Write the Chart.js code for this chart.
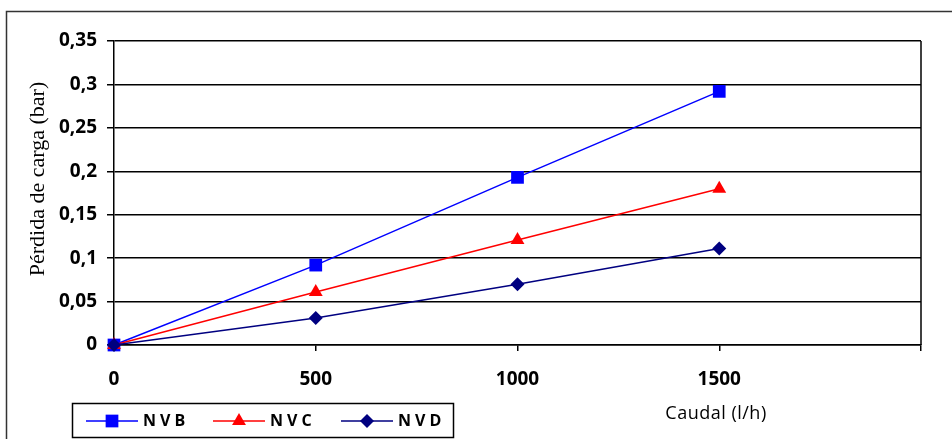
<!DOCTYPE html>
<html>
<head>
<meta charset="utf-8">
<script src="https://cdn.jsdelivr.net/npm/chart.js@4.4.0/dist/chart.umd.min.js"></script>
<style>
  html, body { margin: 0; padding: 0; background: #fff; }
  #wrap { width: 952px; height: 439px; }
</style>
</head>
<body>
<div id="wrap"><canvas id="myChart" width="952" height="439"></canvas></div>
<script>
// data
const caudal = [0, 500, 1000, 1500];
const nvb = [0, 0.092, 0.193, 0.292];
const nvc = [0, 0.061, 0.121, 0.18];
const nvd = [0, 0.031, 0.07, 0.111];
const seriesNames = ['NVB', 'NVC', 'NVD'];
const xTicks = [0, 500, 1000, 1500, 2000];   // last one has no label
const yTicks = [0, 0.05, 0.1, 0.15, 0.2, 0.25, 0.3, 0.35];

const tickFont = { family: 'Open Sans', size: 19, weight: 'bold' };

function pts(ys) {
    return caudal.map((x, i) => ({ x: x, y: ys[i] }));
}

const styles = [
    { color: '#0000ff', pointStyle: 'rect', radius: 9, order: 2 },
    { color: '#ff0000', pointStyle: 'triangle', radius: 8, order: 1 },
    { color: '#000080', pointStyle: 'rectRot', radius: 7, order: 0 }
];

const allSeries = [nvb, nvc, nvd];
const datasets = allSeries.map((s, i) => ({
    label: seriesNames[i],
    data: pts(s),
    borderColor: styles[i].color,
    backgroundColor: styles[i].color,
    borderWidth: 1.5,
    pointStyle: styles[i].pointStyle,
    pointRadius: styles[i].radius,
    pointBorderWidth: 0,
    order: styles[i].order,
    clip: false
}));

// borders, titles and the boxed legend
const extras = {
    id: 'extras',
    afterDraw(chart) {
        const ctx = chart.ctx;
        const a = chart.chartArea;
        ctx.save();

        // outer frame
        ctx.strokeStyle = '#333';
        ctx.lineWidth = 1.5;
        ctx.strokeRect(6.5, 11.5, 970, 450);

        // right edge of plot
        ctx.strokeStyle = '#000';
        ctx.lineWidth = 1.5;
        ctx.beginPath();
        ctx.moveTo(a.right, a.top);
        ctx.lineTo(a.right, a.bottom);
        ctx.stroke();

        // y title
        ctx.fillStyle = '#000';
        ctx.font = '22px "Liberation Serif"';
        ctx.textAlign = 'center';
        ctx.textBaseline = 'middle';
        ctx.translate(38, 179);
        ctx.rotate(-Math.PI / 2);
        ctx.fillText('Pérdida de carga (bar)', 0, 0);
        ctx.setTransform(1, 0, 0, 1, 0, 0);

        // x title
        ctx.font = '18px "Open Sans"';
        ctx.letterSpacing = '0.5px';
        ctx.fillText('Caudal (l/h)', 716, 414);

        // legend box
        ctx.lineWidth = 1.5;
        ctx.strokeStyle = '#000';
        ctx.strokeRect(72.5, 403.5, 381, 34);
        const ly = 421;
        const starts = [86, 213, 341];
        ctx.font = 'bold 16px "Open Sans"';
        ctx.textAlign = 'left';
        ctx.letterSpacing = '4px';
        datasets.forEach((d, i) => {
            const x0 = starts[i];
            ctx.strokeStyle = d.borderColor;
            ctx.lineWidth = 1.5;
            ctx.beginPath();
            ctx.moveTo(x0, ly);
            ctx.lineTo(x0 + 52, ly);
            ctx.stroke();
            ctx.fillStyle = d.backgroundColor;
            Chart.helpers.drawPoint(ctx, {
                pointStyle: d.pointStyle,
                radius: d.pointRadius,
                rotation: 0,
                borderWidth: 0
            }, x0 + 26, ly);
            ctx.fillStyle = '#000';
            ctx.fillText(d.label, x0 + 57, ly);
        });
        ctx.restore();
    }
};

const ctx = document.getElementById('myChart').getContext('2d');
const myChart = new Chart(ctx, {
    type: 'line',
    data: { datasets: datasets },
    options: {
        responsive: false,
        animation: false,
        layout: { padding: { top: 41, right: 31, left: 0, bottom: 0 } },
        plugins: {
            legend: { display: false },
            tooltip: { enabled: false }
        },
        scales: {
            x: {
                type: 'linear',
                min: 0,
                max: 2000,
                afterBuildTicks(scale) {
                    scale.ticks = xTicks.map(v => ({ value: v }));
                },
                afterFit(scale) { scale.height = 94; },
                ticks: {
                    color: '#000',
                    font: tickFont,
                    padding: 17,
                    maxRotation: 0,
                    callback: v => (v === 2000 ? '' : String(v))
                },
                grid: {
                    drawOnChartArea: false,
                    color: '#000',
                    lineWidth: 1.5,
                    tickLength: 6
                },
                border: { color: '#000', width: 1.5 }
            },
            y: {
                min: 0,
                max: 0.35,
                afterBuildTicks(scale) {
                    scale.ticks = yTicks.map(v => ({ value: v }));
                },
                afterFit(scale) { scale.width = 114; },
                ticks: {
                    color: '#000',
                    font: tickFont,
                    padding: 10,
                    callback: v => String(Number(v.toFixed(2))).replace('.', ',')
                },
                grid: {
                    color: '#000',
                    lineWidth: 1.5,
                    tickLength: 7
                },
                border: { color: '#000', width: 1.5 }
            }
        }
    },
    plugins: [extras]
});
</script>
</body>
</html>
